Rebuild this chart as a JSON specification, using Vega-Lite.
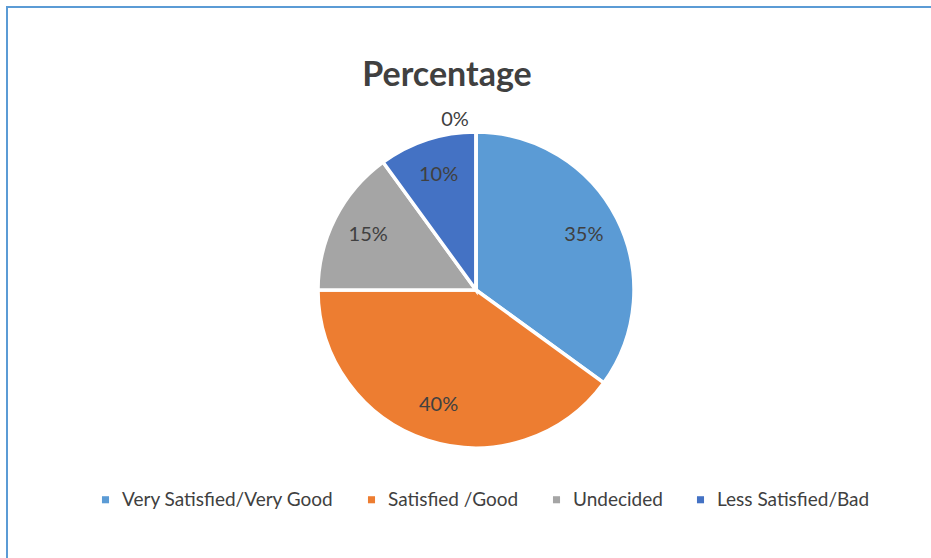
{
  "$schema": "https://vega.github.io/schema/vega-lite/v6.json",
  "autosize": {"type": "none"},
  "width": 938,
  "height": 566,
  "padding": {"left": 7, "top": 7, "right": 0, "bottom": 0},
  "background": "white",
  "config": {
    "view": {"stroke": "#5B9BD5", "strokeWidth": 2},
    "font": "Lato"
  },
  "title": {
    "text": "Percentage",
    "font": "Lato",
    "fontSize": 34,
    "fontWeight": "bold",
    "color": "#404040",
    "anchor": "middle",
    "baseline": "alphabetic",
    "dx": -29,
    "offset": -116
  },
  "data": {
    "values": [
      {"category": "Very Satisfied/Very Good", "pct": 0.35, "order": 1},
      {"category": "Satisfied /Good", "pct": 0.40, "order": 2},
      {"category": "Undecided", "pct": 0.15, "order": 3},
      {"category": "Less Satisfied/Bad", "pct": 0.10, "order": 4},
      {"category": "Other", "pct": 0.0, "order": 5}
    ]
  },
  "layer": [
    {
      "mark": {"type": "point", "opacity": 0},
      "encoding": {
        "x": {"field": "order", "type": "quantitative", "axis": null},
        "y": {"field": "order", "type": "quantitative", "axis": null}
      }
    },
    {
      "mark": {"type": "arc", "outerRadius": 158, "stroke": "white", "strokeWidth": 3.5},
      "encoding": {
        "theta": {"field": "pct", "type": "quantitative", "stack": true},
        "order": {"field": "order", "type": "quantitative"},
        "color": {
          "field": "category",
          "type": "nominal",
          "scale": {
            "domain": ["Very Satisfied/Very Good", "Satisfied /Good", "Undecided", "Less Satisfied/Bad", "Other"],
            "range": ["#5B9BD5", "#ED7D31", "#A5A5A5", "#4472C4", "#FFC000"]
          },
          "legend": {
            "values": ["Very Satisfied/Very Good", "Satisfied /Good", "Undecided", "Less Satisfied/Bad"],
            "title": null,
            "orient": "none",
            "direction": "horizontal",
            "columns": 4,
            "legendX": 89,
            "legendY": 483,
            "symbolType": "square",
            "symbolSize": 50,
            "symbolStrokeWidth": 0,
            "labelFont": "Lato",
            "labelFontSize": 19,
            "labelLimit": 400,
            "labelColor": "#404040",
            "labelOffset": 7,
            "columnPadding": 28
          }
        }
      }
    },
    {
      "transform": [{"filter": "datum.pct > 0"}],
      "mark": {"type": "text", "radius": 121, "font": "Lato", "fontSize": 20, "color": "#404040"},
      "encoding": {
        "theta": {"field": "pct", "type": "quantitative", "stack": true},
        "order": {"field": "order", "type": "quantitative"},
        "text": {"field": "pct", "type": "quantitative", "format": ".0%"}
      }
    },
    {
      "transform": [{"filter": "datum.pct == 0"}],
      "mark": {"type": "text", "radius": 170, "dx": -21, "font": "Lato", "fontSize": 20, "color": "#404040"},
      "encoding": {
        "theta": {"field": "pct", "type": "quantitative", "stack": true},
        "order": {"field": "order", "type": "quantitative"},
        "text": {"field": "pct", "type": "quantitative", "format": ".0%"}
      }
    }
  ]
}
